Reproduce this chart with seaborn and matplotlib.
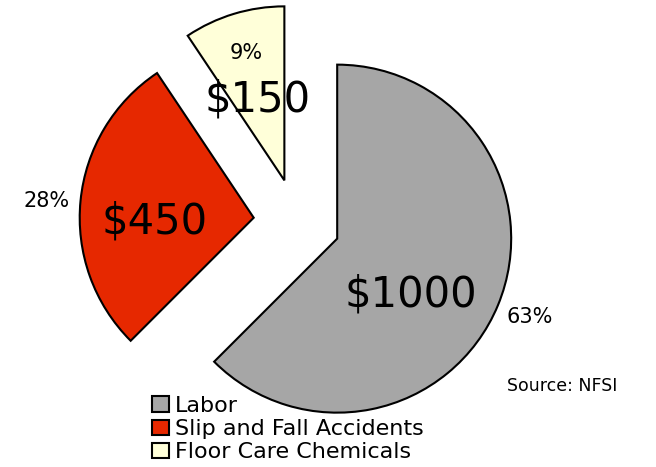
import matplotlib
matplotlib.use("Agg")
import matplotlib.pyplot as plt
import seaborn as sns

categories = ["Labor", "Slip and Fall Accidents", "Floor Care Chemicals"]
costs = [1000, 450, 150]
value_labels = ["$1000", "$450", "$150"]
pct_labels = ["63%", "28%", "9%"]
colors = ["#A6A6A6", "#E62800", "#FFFFD9"]

sns.set_theme(style="white")
plt.rcParams["font.family"] = ["DejaVu Sans"]
plt.rcParams["text.color"] = "black"

fig = plt.figure(figsize=(6.56, 4.67), dpi=100)
ax = fig.add_axes([0, 0, 1, 1])
ax.axis("off")

wedges, texts, autotexts = ax.pie(
    costs,
    labels=pct_labels,
    colors=colors,
    explode=[0.25, 0.25, 0.25],
    startangle=90,
    counterclock=False,
    autopct=lambda p: "",
    pctdistance=0.5,
    labeldistance=1.2,
    wedgeprops=dict(edgecolor="black", linewidth=1.5),
    textprops=dict(fontsize=15, color="black"),
)

# label placements relative to each exploded slice's apex (radius units)
value_offsets = [(0.425, -0.322), (-0.569, -0.023), (-0.155, 0.466)]
pct_offsets = [(1.109, -0.448), (-1.19, 0.098), (-0.218, 0.730)]

for w, t, a, v, vo, po in zip(wedges, texts, autotexts, value_labels,
                              value_offsets, pct_offsets):
    cx, cy = w.center
    a.set_text(v)
    a.set_fontsize(30)
    a.set_ha("center")
    a.set_va("center")
    a.set_position((cx + vo[0], cy + vo[1]))
    t.set_ha("center")
    t.set_va("center")
    t.set_position((cx + po[0], cy + po[1]))

# data-to-pixel mapping: pie centre at (297, 222) px, radius 174 px
ax.set_aspect("auto")
ax.set_xlim(-297 / 174, (656 - 297) / 174)
ax.set_ylim(-(467 - 222) / 174, 222 / 174)

fig.text(562 / 656, 1 - 386 / 467, "Source: NFSI", fontsize=12.5,
         ha="center", va="center", color="black")

leg = fig.legend(
    wedges, categories,
    loc="upper left",
    bbox_to_anchor=(152 / 656, 1 - 396 / 467),
    frameon=False,
    fontsize=16,
    handlelength=0.75,
    handleheight=0.7,
    handletextpad=0.27,
    labelspacing=0.14,
    borderpad=0,
    borderaxespad=0,
)
for txt in leg.get_texts():
    txt.set_color("black")
for h in leg.legend_handles:
    h.set_linewidth(1.5)

fig.savefig("out.png", dpi=100)
